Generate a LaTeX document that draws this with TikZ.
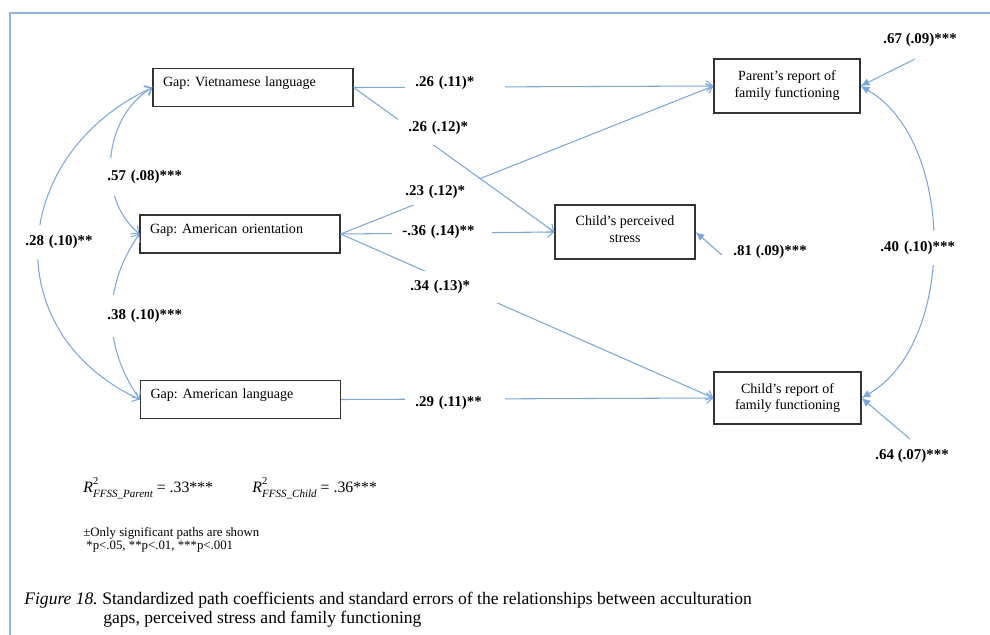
\documentclass[tikz,border=0pt]{standalone}
\usepackage{fontspec}
\setmainfont{Liberation Serif}
\usetikzlibrary{arrows.meta}
\definecolor{lineblue}{HTML}{7BA7DB}
\definecolor{frameblue}{HTML}{8DB4E2}
\frenchspacing
% R squared with a stacked superscript 2 and an italic subscript
\newcommand{\rsqfit}[1]{\textit{R}\rlap{\raisebox{4.6pt}{\fontsize{6}{6}\selectfont 2}}%
  \raisebox{-2.9pt}{\fontsize{6.3}{6}\selectfont\itshape #1}}
\begin{document}
\begin{tikzpicture}[x=0.02cm, y=-0.02cm,
  gapbox/.style={draw=black!80, line width=0.7pt, minimum width=4cm, text width=3.6cm,
    inner xsep=0.2cm, inner ysep=0pt, text height=0.36cm, text depth=0.40cm,
    align=left, font=\fontsize{8}{9.6}\selectfont},
  outbox/.style={draw=black!80, line width=0.7pt, align=center, inner sep=0pt,
    font=\fontsize{8}{9.6}\selectfont},
  coef/.style={font=\bfseries\fontsize{8.5}{10}\selectfont, fill=white, inner xsep=0.2cm,
    anchor=west, text width=1.6cm, align=left},
  rlabel/.style={font=\bfseries\fontsize{8.5}{10}\selectfont, inner sep=0pt, anchor=west},
  pathline/.style={draw=lineblue, line width=0.6pt, -{Straight Barb[length=3.5pt,width=6pt]}},
  covline/.style={draw=lineblue, line width=0.6pt,
    {Straight Barb[length=3.5pt,width=6pt]}-{Straight Barb[length=3.5pt,width=6pt]}},
  covfilled/.style={draw=lineblue, line width=0.6pt,
    {Latex[length=5pt,width=4.5pt]}-{Latex[length=5pt,width=4.5pt]}},
  residline/.style={draw=lineblue, line width=0.6pt, -{Latex[length=5pt,width=4.5pt]}},
  note/.style={inner sep=0pt, anchor=west}
]
\useasboundingbox (0,0) rectangle (990,635);

% outer frame
\draw[frameblue, line width=0.8pt] (10,635) -- (10,13) -- (990,13);

% acculturation gaps
\node[gapbox] (viet)   at (253,87.5)  {Gap: Vietnamese language};
\node[gapbox] (amor)   at (240,234)   {Gap: American orientation};
\node[gapbox] (amlang) at (240.5,399.5) {Gap: American language};

% outcomes
\node[outbox, minimum width=2.92cm, minimum height=1.08cm] (parent) at (787,86)
  {Parent’s report of\\family functioning};
\node[outbox, minimum width=2.8cm, minimum height=1.08cm, text depth=0.12cm] (stress) at (625,232)
  {Child’s perceived\\stress};
\node[outbox, minimum width=2.94cm, minimum height=1.04cm] (childrep) at (787.5,398)
  {Child’s report of\\family functioning};

% regression paths
\draw[pathline] (viet.east) -- (parent.west);
\draw[pathline] (amor.east) -- (parent.west);
\draw[pathline] (amor.east) -- (stress.west);
\draw[pathline] (amor.east) -- (childrep.west);
\draw[pathline] (amlang.east) -- (childrep.west);

% covariances among the gaps
\draw[covline] (viet.west) .. controls +(-49,29) and +(-44,-37) .. (amor.west);
\draw[covline] (amor.west) .. controls +(-37,53) and +(-37,-53) .. (amlang.west);
\draw[covline] (viet.west) .. controls +(-144,67) and +(-144,-67) .. (amlang.west);

% covariance between the family functioning reports
\draw[covfilled] (parent.east) .. controls +(95,55) and +(95,-55) .. (childrep.east);

% residuals
\coordinate (e67) at (915,59);
\coordinate (e81) at (722,255);
\coordinate (e64) at (910,439);
\draw[residline] (e67) -- (parent.east);
\draw[residline] (e81) -- (stress.east);
\draw[residline] (e64) -- (childrep.east);

% coefficients
\node[coef] (c1) at (405,83) {.26 (.11)*};
\node[coef, inner ysep=0.12cm] (c3) at (395,192) {.23 (.12)*};
\node[coef] (c4) at (392,232) {-.36 (.14)**};
\node[coef, inner ysep=0.18cm] (c5) at (400,287) {.34 (.13)*};
\node[coef] (c6) at (405,403) {.29 (.11)**};
\node[coef, inner ysep=0.25cm] (c7) at (97,177) {.57 (.08)***};
\node[coef, inner ysep=0.28cm] (c8) at (97,316) {.38 (.10)***};
\node[coef, inner ysep=0.2cm] (c9) at (15,242) {.28 (.10)**};
\node[coef, inner ysep=0.2cm] (c10) at (870,248) {.40 (.10)***};

% this path crosses the .23 label area, so it goes on top
\draw[pathline] (viet.east) -- (stress.west);
\node[coef, inner ysep=0.2cm] (c2) at (398,128) {.26 (.12)*};

\node[rlabel] (r67) at (883,40)  {.67 (.09)***};
\node[rlabel] (r81) at (733,252) {.81 (.09)***};
\node[rlabel] (r64) at (875,456) {.64 (.07)***};

% fit and notes
\node[note, font=\fontsize{9}{11}\selectfont] (r2p) at (83,488) {\rsqfit{FFSS\_Parent} = .33***};
\node[note, font=\fontsize{9}{11}\selectfont] (r2c) at (252,488) {\rsqfit{FFSS\_Child} = .36***};
\node[note, font=\fontsize{7.3}{8.5}\selectfont] (sig) at (83,533) {±Only significant paths are shown};
\node[note, font=\fontsize{7.3}{8.5}\selectfont] (pval) at (86,547) {*p<.05, **p<.01, ***p<.001};

% caption
\node[note, font=\fontsize{10}{12}\selectfont] (cap1) at (24,600)
  {\textit{Figure 18.} Standardized path coefficients and standard errors of the relationships between acculturation};
\node[note, font=\fontsize{10}{12}\selectfont] (cap2) at (103,619)
  {gaps, perceived stress and family functioning};
\end{tikzpicture}
\end{document}
